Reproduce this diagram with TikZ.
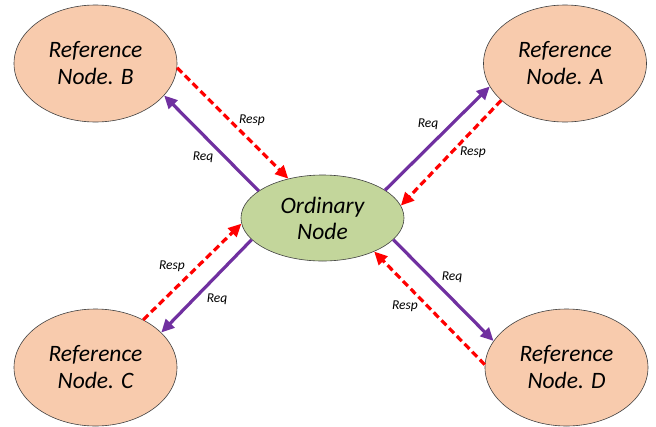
\documentclass[tikz,border=0pt]{standalone}
\usepackage{fontspec}
\setmainfont{Carlito}
\usetikzlibrary{shapes.geometric,arrows.meta}
\definecolor{peach}{HTML}{F8CBAD}
\definecolor{olivefill}{HTML}{C3D69B}
\definecolor{reqpurple}{HTML}{7030A0}
\definecolor{resred}{HTML}{FF0000}
\definecolor{edgegray}{HTML}{404040}
\tikzset{
  refnode/.style={ellipse, draw=edgegray, line width=0.6pt, fill=peach,
    minimum width=163pt, minimum height=117pt, inner sep=0pt, align=center,
    font=\fontsize{23.5}{27}\selectfont\itshape},
  ordnode/.style={ellipse, draw=edgegray, line width=0.6pt, fill=olivefill,
    minimum width=163pt, minimum height=86pt, inner sep=0pt, align=center,
    font=\fontsize{23.5}{26}\selectfont\itshape},
  reqarrow/.style={draw=reqpurple, line width=3.2pt,
    -{Triangle[length=13pt,width=12pt]}},
  resparrow/.style={draw=resred, line width=3.2pt, dash pattern=on 7pt off 4pt,
    -{Triangle[length=13pt,width=12pt]}},
  lbl/.style={font=\fontsize{13.5}{15}\selectfont\itshape, inner sep=0pt}
}
\begin{document}
\begin{tikzpicture}[x=1pt,y=-1pt]
\useasboundingbox[fill=white] (0,0) rectangle (656,426);
\node[refnode] (B) at (95.5,63.5) {Reference\\Node. B};
\node[refnode] (A) at (565,63.5) {Reference\\Node. A};
\node[refnode] (C) at (95.5,367.5) {Reference\\Node. C};
\node[refnode] (D) at (566.5,367.5) {Reference\\Node. D};
\node[ordnode] (O) at (322.5,218) {Ordinary\\Node};
% B
\draw[reqarrow] (O.157.7) -- (B.-25.7);
\draw[resparrow] (B.-3.2) -- (O.131.6);
% A
\draw[reqarrow] (O.24.8) -- (A.197);
\draw[resparrow] (A.210.9) -- (O.9.5);
% C
\draw[resparrow] (C.45) -- (O.184.8);
\draw[reqarrow] (O.197.6) -- (C.28.1);
% D
\draw[reqarrow] (O.-17.6) -- (D.160.9);
\draw[resparrow] (D.178.2) -- (O.-33.7);
% labels
\node[lbl] (lBresp) at (252,120) {Resp};
\node[lbl] (lBreq) at (203,157) {Req};
\node[lbl] (lAreq) at (428,124) {Req};
\node[lbl] (lAresp) at (473,152) {Resp};
\node[lbl] (lCresp) at (172,266) {Resp};
\node[lbl] (lCreq) at (217,299) {Req};
\node[lbl] (lDreq) at (452,277) {Req};
\node[lbl] (lDresp) at (405,306) {Resp};
\end{tikzpicture}
\end{document}
